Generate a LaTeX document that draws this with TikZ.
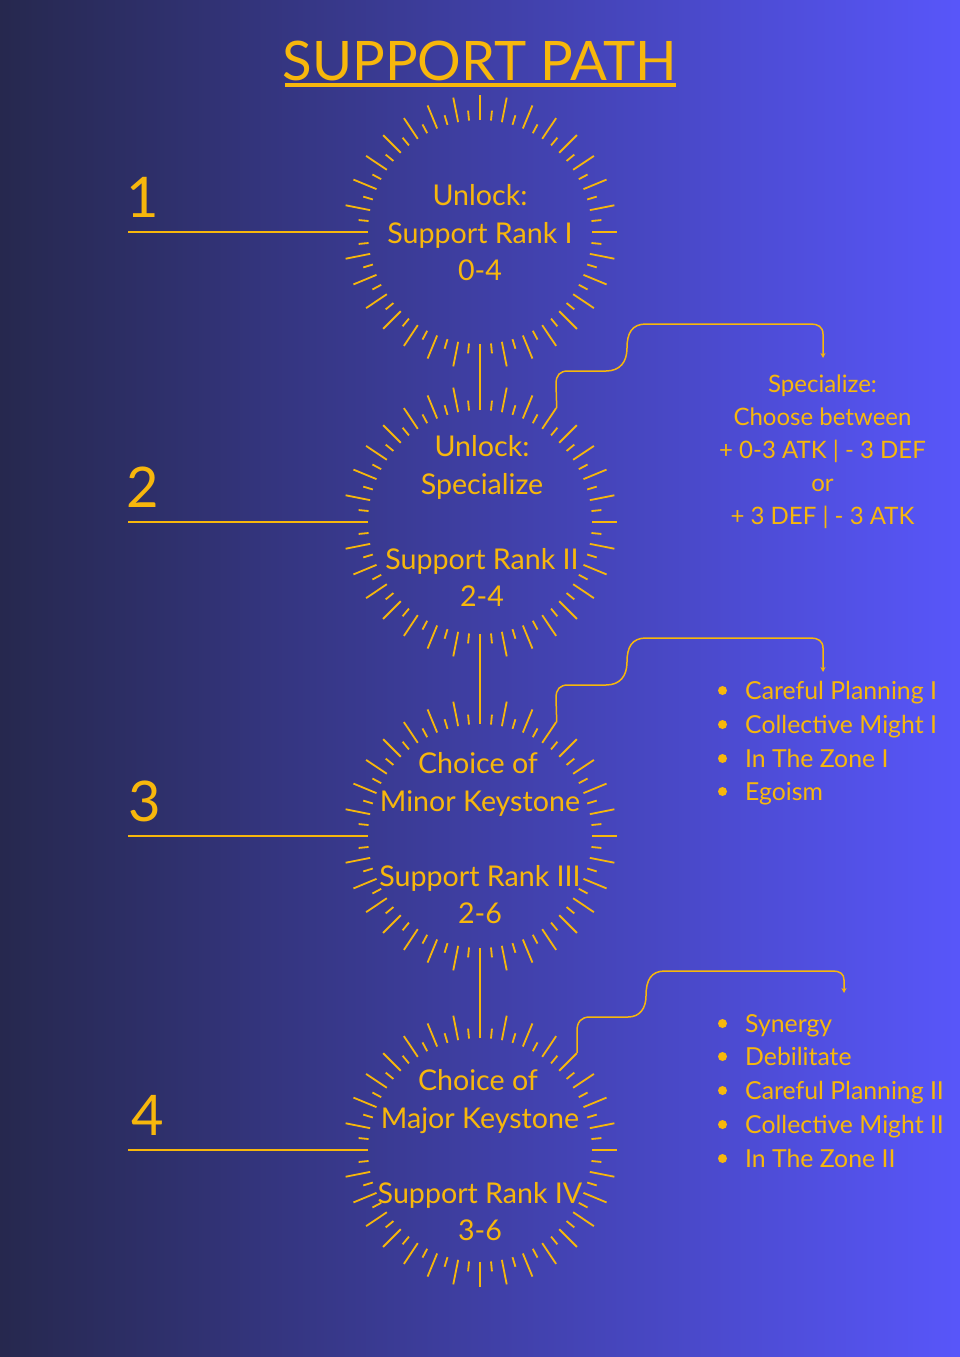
\documentclass[tikz,border=0pt]{standalone}
\usepackage{fontspec}
\setmainfont{Lato}
\usetikzlibrary{arrows.meta,calc}
\definecolor{gold}{RGB}{247,183,12}
\definecolor{bgL}{RGB}{38,40,78}
\definecolor{bgR}{RGB}{88,86,250}
\begin{document}
\begin{tikzpicture}[x=1pt,y=-1pt,
  ray/.style={draw=gold,line width=1.8pt},
  hline/.style={draw=gold,line width=1.8pt},
  conn/.style={draw=gold,line width=1.5pt,-{Stealth[length=5pt,width=5pt]}},
  ring/.style={circle,minimum size=224pt,inner sep=0pt},
  outer/.style={circle,minimum size=274pt,inner sep=0pt},
  ctext/.style={text=gold,anchor=base,inner sep=0pt,font=\fontsize{28.6}{35}\selectfont},
  rtext/.style={text=gold,anchor=base,inner sep=0pt,font=\fontsize{24}{30}\selectfont},
  ltext/.style={text=gold,anchor=base west,inner sep=0pt,font=\fontsize{24.8}{30}\selectfont},
  num/.style={text=gold,anchor=base,inner sep=0pt,font=\fontsize{56}{60}\selectfont},
  bul/.style={circle,fill=gold,minimum size=9pt,inner sep=0pt},
]
\useasboundingbox (0,0) rectangle (960,1357);
\shade[left color=bgL,right color=bgR] (0,0) rectangle (960,1357);

% title
\node[text=gold,anchor=base,inner sep=0pt,font=\fontsize{54.5}{60}\selectfont] (title) at (480,80) {SUPPORT PATH};
\draw[gold,line width=4pt] (285,84.5) -- (676,84.5);

% sunbursts
\foreach \k/\cy in {1/232,2/522,3/836,4/1150}{
  \node[ring] (s\k) at (480,\cy) {};
  \node[outer] (o\k) at (480,\cy) {};
  \foreach \i in {0,...,31}{
    \draw[ray] ($(s\k.center)+(\i*11.25:112)$) -- ($(s\k.center)+(\i*11.25:137)$);
    \draw[ray] ($(s\k.center)+(\i*11.25+5.625:112)$) -- ($(s\k.center)+(\i*11.25+5.625:122)$);
  }
}
\draw[hline] (s1.south) -- (s2.north);
\draw[hline] (s2.south) -- (s3.north);
\draw[hline] (s3.south) -- (s4.north);

% numbers and lines
\foreach \k/\cy/\nx in {1/232/143,2/522/143,3/836/145,4/1150/148}{
  \coordinate (l\k) at (128,\cy);
  \draw[hline] (l\k) -- (s\k.west);
  \node[num] (n\k) at (\nx,\cy-15) {\k};
}

% circle texts
\node[ctext] (t1a) at (480,205) {Unlock:};
\node[ctext] (t1b) at (480,243) {Support Rank I};
\node[ctext] (t1c) at (480,280) {0-4};

\node[ctext] (t2a) at (482,456) {Unlock:};
\node[ctext] (t2b) at (482,494) {Specialize};
\node[ctext] (t2c) at (482,569) {Support Rank II};
\node[ctext] (t2d) at (482,606) {2-4};

\node[ctext] (t3a) at (478,773) {Choice of};
\node[ctext] (t3b) at (480,811) {Minor Keystone};
\node[ctext] (t3c) at (480,886) {Support Rank III};
\node[ctext] (t3d) at (480,923) {2-6};

\node[ctext] (t4a) at (478,1090) {Choice of};
\node[ctext] (t4b) at (480,1128) {Major Keystone};
\node[ctext] (t4c) at (480,1203) {Support Rank IV};
\node[ctext] (t4d) at (480,1240) {3-6};

% right side: specialize
\node[rtext] (r1) at (822.5,392.5) {Specialize:};
\node[rtext] (r2) at (822.5,425) {Choose between};
\node[rtext] (r3) at (822.5,458) {+ 0-3 ATK | - 3 DEF};
\node[rtext] (r4) at (822.5,491) {or};
\node[rtext] (r5) at (822.5,524) {+ 3 DEF | - 3 ATK};

% minor keystone list
\foreach \j/\yy/\txt in {a/699/Careful Planning I,b/733/Collective Might I,c/767/In The Zone I,d/800/Egoism}{
  \node[bul] (b3\j) at (722.5,\yy-8.5) {};
  \node[ltext] (m3\j) at (745,\yy) {\txt};
}
% major keystone list
\foreach \j/\yy/\txt in {a/1032/Synergy,b/1065/Debilitate,c/1099/Careful Planning II,d/1133/Collective Might II,e/1167/In The Zone II}{
  \node[bul] (b4\j) at (722.5,\yy-8.5) {};
  \node[ltext] (m4\j) at (745,\yy) {\txt};
}

% connectors
\coordinate (a2) at (823,358);
\coordinate (a3) at (823,672);
\coordinate (a4) at (844,993);
\draw[conn] (o2.56.25) -- (556,384) .. controls (556,375) and (560,371) .. (568,371) -- (606,371)
  .. controls (620,371) and (627,362) .. (627,348) .. controls (627,333) and (632,324) .. (646,324)
  -- (811,324) .. controls (818,324) and (823,327) .. (823,334) -- (a2);
\draw[conn] (o3.56.25) -- (556,698) .. controls (556,689) and (560,685) .. (568,685) -- (606,685)
  .. controls (620,685) and (627,676) .. (627,662) .. controls (627,647) and (632,638) .. (646,638)
  -- (811,638) .. controls (818,638) and (823,641) .. (823,648) -- (a3);
\draw[conn] (o4.45) -- (577,1031) .. controls (577,1022) and (581,1017) .. (590,1017) -- (628,1017)
  .. controls (640,1017) and (646,1008) .. (646,996) .. controls (646,980) and (651,971) .. (665,971)
  -- (833,971) .. controls (840,971) and (844,974) .. (844,980) -- (a4);
\end{tikzpicture}
\end{document}
